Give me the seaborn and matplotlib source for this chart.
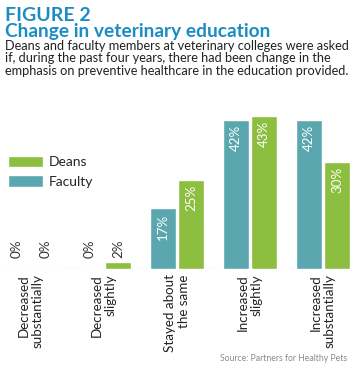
import pandas as pd
import matplotlib
matplotlib.use('Agg')
import matplotlib.pyplot as plt
import seaborn as sns

# data
categories = ['Decreased\nsubstantially', 'Decreased\nslightly', 'Stayed about\nthe same',
              'Increased\nslightly', 'Increased\nsubstantially']
faculty = [0, 0, 17, 42, 42]
deans = [0, 2, 25, 43, 30]

df = pd.DataFrame({
    'category': categories * 2,
    'group': ['Faculty'] * len(categories) + ['Deans'] * len(categories),
    'pct': faculty + deans,
})

teal = '#5ba7af'
green = '#8cbe3f'
blue = '#1c8cc5'

sns.set_style('white')
plt.rcParams['font.family'] = ['Lato', 'DejaVu Sans']

fig = plt.figure(figsize=(3.5, 3.73), dpi=100)
ax = fig.add_axes([0, 0.279, 1, 0.429])

sns.barplot(data=df, x='category', y='pct', hue='group', hue_order=['Faculty', 'Deans'],
            palette={'Faculty': teal, 'Deans': green}, width=0.78, gap=0.1,
            saturation=1, ax=ax)

ax.set_ylim(0, 45)
ax.set_xlim(-0.425, 4.37)
for s in ax.spines.values():
    s.set_visible(False)
ax.set_yticks([])
ax.set_xlabel('')
ax.set_ylabel('')
ax.axhline(0, color='#9a9a9a', lw=0.8, ls=(0, (2, 1.2)), zorder=0)

ax.set_xticks(range(len(categories)))
ax.set_xticklabels(categories, rotation=90, va='top', ha='center',
                   multialignment='right', fontsize=9.6, color='#222222',
                   linespacing=1.2)
ax.tick_params(axis='x', length=0, pad=4)

# value labels
for cont in ax.containers:
    for bar in cont:
        h = bar.get_height()
        x = bar.get_x() + bar.get_width() / 2
        if h > 5:
            ax.annotate(f'{h:.0f}%', (x, h), xytext=(0, -3.5), textcoords='offset points',
                        rotation=90, ha='center', va='top', color='white', fontsize=9.6)
        else:
            ax.annotate(f'{h:.0f}%', (x, max(h, 2)), xytext=(0, 3), textcoords='offset points',
                        rotation=90, ha='center', va='bottom', color='#333333', fontsize=9.6)

# legend: Deans first
handles, labels = ax.get_legend_handles_labels()
order = [labels.index('Deans'), labels.index('Faculty')]
ax.legend([handles[i] for i in order], [labels[i] for i in order],
          loc='upper left', bbox_to_anchor=(0.0, 0.76), frameon=False,
          fontsize=10, handlelength=2.5, handleheight=0.9, handletextpad=0.4,
          labelspacing=0.5, borderaxespad=0.2)

fig.text(0.015, 0.982, 'FIGURE 2', fontsize=14, fontweight='bold', color=blue, va='top')
fig.text(0.015, 0.937, 'Change in veterinary education', fontsize=13.8,
         fontweight='bold', color=blue, va='top')
fig.text(0.015, 0.893,
         'Deans and faculty members at veterinary colleges were asked\n'
         'if, during the past four years, there had been change in the\n'
         'emphasis on preventive healthcare in the education provided.',
         fontsize=9.2, color='#222222', va='top', linespacing=1.05)
fig.text(0.993, 0.028, 'Source: Partners for Healthy Pets', fontsize=6.2,
         color='#8a8a8a', ha='right', va='bottom')

fig.savefig('out.png', dpi=100)
